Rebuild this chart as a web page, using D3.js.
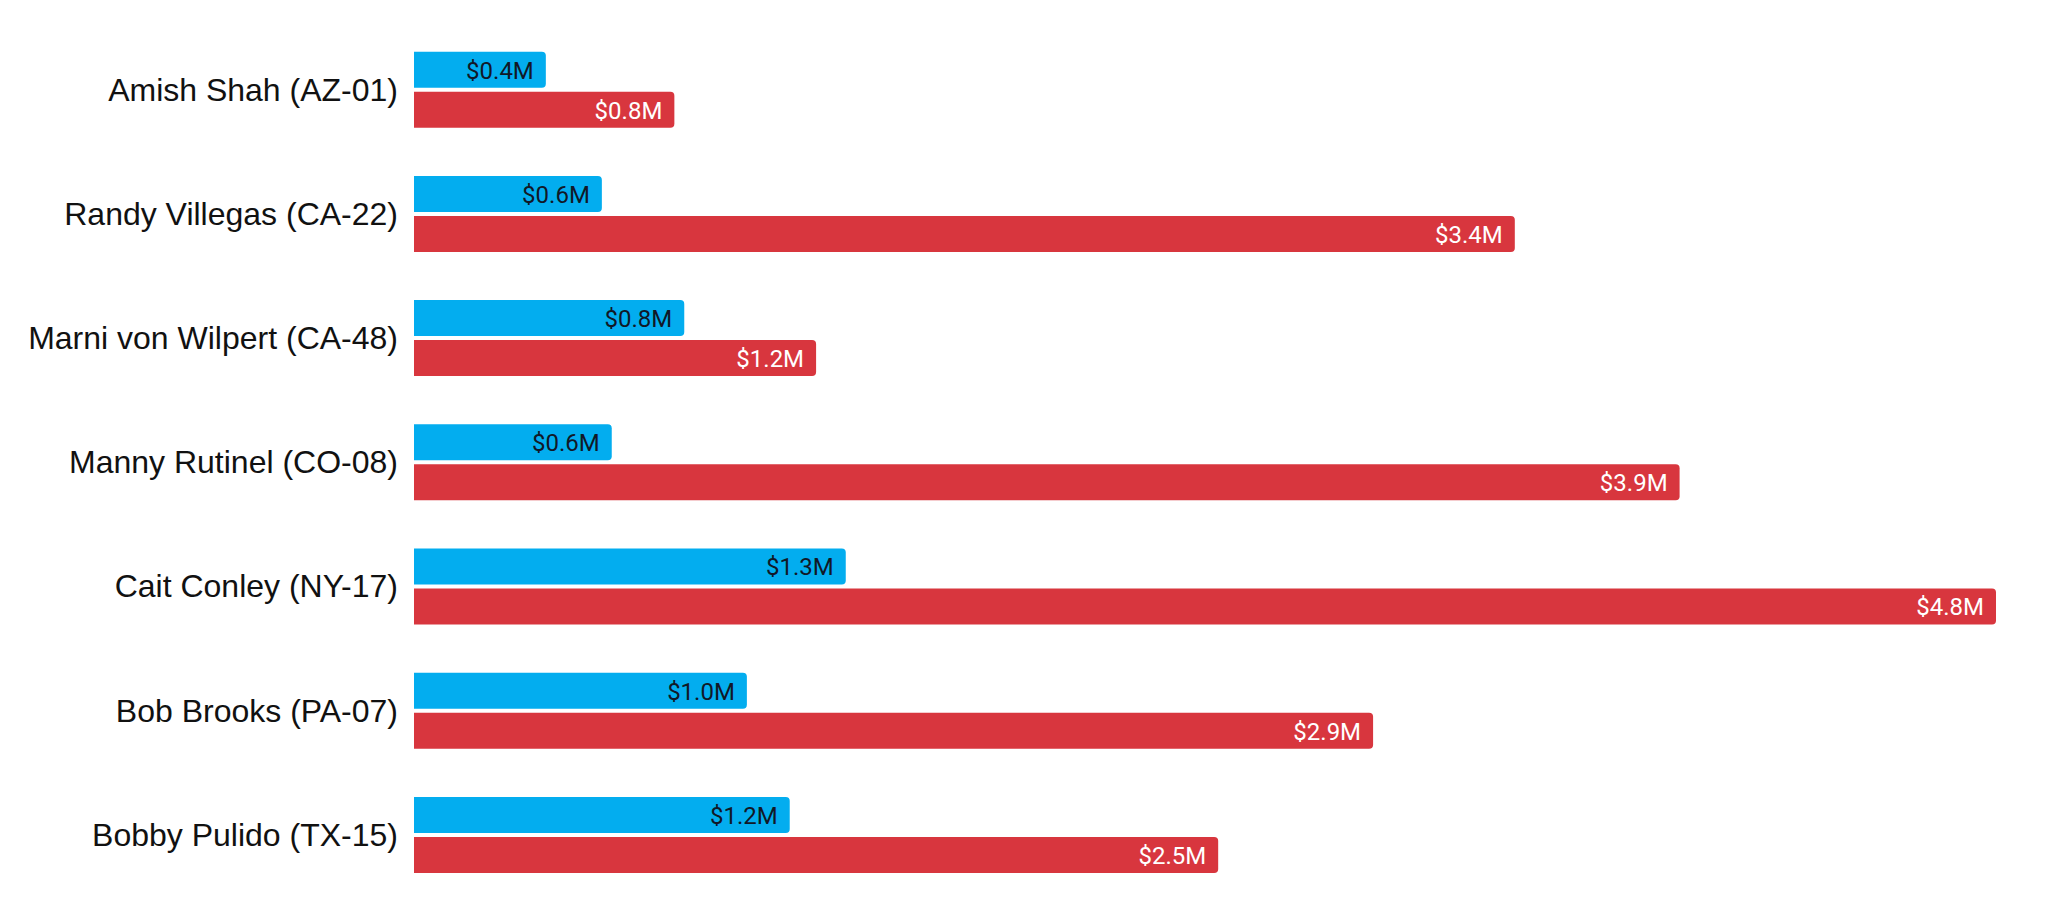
<!DOCTYPE html>
<html>
<head>
<meta charset="utf-8">
<script src="https://cdn.jsdelivr.net/npm/d3@7"></script>
<style>
  body { margin: 0; background: #fff; }
  svg { display: block; }
</style>
</head>
<body>
<svg id="chart"></svg>
<script>
// candidates and raised money (millions)
const candidates = [
  "Amish Shah (AZ-01)",
  "Randy Villegas (CA-22)",
  "Marni von Wilpert (CA-48)",
  "Manny Rutinel (CO-08)",
  "Cait Conley (NY-17)",
  "Bob Brooks (PA-07)",
  "Bobby Pulido (TX-15)"
];
const blueValues = [0.40, 0.57, 0.82, 0.60, 1.31, 1.01, 1.14];
const redValues = [0.79, 3.34, 1.22, 3.84, 4.80, 2.91, 2.44];
// labels as printed on the bars
const blueLabels = ["$0.4M", "$0.6M", "$0.8M", "$0.6M", "$1.3M", "$1.0M", "$1.2M"];
const redLabels = ["$0.8M", "$3.4M", "$1.2M", "$3.9M", "$4.8M", "$2.9M", "$2.5M"];
const seriesKeys = ["blue", "red"];

let width = 2072;
let height = 916;

let svg = d3.select("#chart").attr("width", width).attr("height", height);

let rows = candidates.map((name, i) => {
  return {
    name: name,
    blue: blueValues[i],
    red: redValues[i],
    blueLabel: blueLabels[i],
    redLabel: redLabels[i]
  };
});

let xScale = d3.scaleLinear().domain([0, 4.8]).range([414, 1996]);

// groups: step ~124px, bars 36px with 4px gap
let yScale = d3
  .scaleBand()
  .domain(candidates)
  .range([27.6, 897])
  .paddingInner(0.388)
  .paddingOuter(0.194);

let ySub = d3
  .scaleBand()
  .domain(seriesKeys)
  .range([0, yScale.bandwidth()])
  .paddingInner(0.1);

let colors = { blue: "#03adef", red: "#d8363e" };
let textColors = { blue: "#111827", red: "#ffffff" };

// bar with rounded right corners only
let barPath = (x0, x1, y, h, r) => {
  r = Math.min(r, (x1 - x0) / 2, h / 2);
  return (
    "M" + x0 + "," + y +
    "H" + (x1 - r) +
    "Q" + x1 + "," + y + " " + x1 + "," + (y + r) +
    "V" + (y + h - r) +
    "Q" + x1 + "," + (y + h) + " " + (x1 - r) + "," + (y + h) +
    "H" + x0 + "Z"
  );
};

let groups = svg
  .selectAll("g.row")
  .data(rows)
  .enter()
  .append("g")
  .attr("class", "row")
  .attr("transform", (d) => "translate(0," + yScale(d.name) + ")");

groups
  .append("text")
  .attr("x", 398)
  .attr("y", yScale.bandwidth() / 2)
  .attr("text-anchor", "end")
  .attr("dominant-baseline", "central")
  .style("font-family", "'Liberation Sans', Arial, sans-serif")
  .style("font-size", "32px")
  .style("fill", "#111")
  .text((d) => d.name);

let bars = groups
  .selectAll("g.bar")
  .data((d) =>
    seriesKeys.map((k) => ({ key: k, value: d[k], label: d[k + "Label"] }))
  )
  .enter()
  .append("g")
  .attr("class", "bar");

bars
  .append("path")
  .attr("d", (d) =>
    barPath(xScale(0), xScale(d.value), ySub(d.key), ySub.bandwidth(), 4)
  )
  .style("fill", (d) => colors[d.key]);

bars
  .append("text")
  .attr("x", (d) => xScale(d.value) - 12)
  .attr("y", (d) => ySub(d.key) + ySub.bandwidth() / 2 + 1)
  .attr("text-anchor", "end")
  .attr("dominant-baseline", "central")
  .style("font-family", "Roboto, 'Noto Sans', sans-serif")
  .style("font-size", "24px")
  .style("fill", (d) => textColors[d.key])
  .text((d) => d.label);
</script>
</body>
</html>
